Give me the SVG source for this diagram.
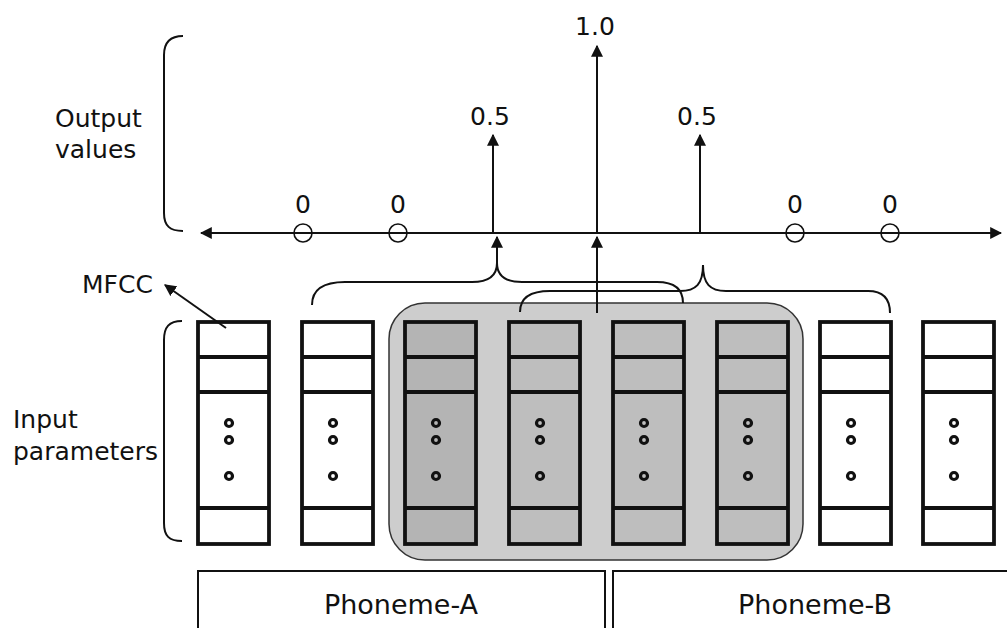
<svg xmlns="http://www.w3.org/2000/svg" width="1007" height="628" viewBox="0 0 1007 628">
<style>
.t{font-family:"DejaVu Sans","Liberation Sans",sans-serif;font-size:25px;fill:#111}
.num{font-family:"DejaVu Sans","Liberation Sans",sans-serif;font-size:25px;fill:#111;text-anchor:middle}
.ph{font-family:"DejaVu Sans","Liberation Sans",sans-serif;font-size:27px;fill:#111;text-anchor:middle}
.ln{fill:none;stroke:#111;stroke-width:2}
.br{fill:none;stroke:#111;stroke-width:2}
.col{stroke:#111;stroke-width:3.8}
.div{stroke:#111;stroke-width:3.8}
.dot{fill:none;stroke:#111;stroke-width:3.2}
.zc{fill:none;stroke:#111;stroke-width:1.6}
.box{fill:none;stroke:#111;stroke-width:2}
</style>
<defs>
<marker id="ah" viewBox="0 0 10 10" refX="9" refY="5" markerWidth="12" markerHeight="12" markerUnits="userSpaceOnUse" orient="auto-start-reverse">
<path d="M0,0 L10,5 L0,10 Z" fill="#111"/>
</marker>
<g id="column">
<rect class="col" x="0" y="0" width="71" height="222"/>
<line class="div" x1="0" y1="35" x2="71" y2="35"/>
<line class="div" x1="0" y1="70" x2="71" y2="70"/>
<line class="div" x1="0" y1="186" x2="71" y2="186"/>
<circle class="dot" cx="31" cy="101" r="3.5"/>
<circle class="dot" cx="31" cy="118" r="3.5"/>
<circle class="dot" cx="31" cy="154" r="3.5"/>
</g>
</defs>
<rect width="1007" height="628" fill="#fff"/>

<g id="shaded-region">
<rect x="389" y="303" width="414" height="257" rx="36" ry="36" fill="#cdcdcd" stroke="#333" stroke-width="1.5"/>
</g>

<g id="brackets">
<path class="br" d="M183,36 C170,36 164,42 164,55 L164,213 C164,226 170,231 183,231"/>
<path class="br" d="M182,321 C169,321 164,327 164,340 L164,523 C164,536 169,541 182,541"/>
</g>

<g id="labels">
<text class="t" x="55" y="127">Output</text>
<text class="t" x="55" y="158">values</text>
<text class="t" x="13" y="428">Input</text>
<text class="t" x="13" y="460">parameters</text>
<text class="t" x="82" y="293">MFCC</text>
</g>

<g id="columns">
<g id="col1" style="fill:#fff"><use href="#column" x="198" y="322"/></g>
<g id="col2" style="fill:#fff"><use href="#column" x="302" y="322"/></g>
<g id="col3" style="fill:#b4b4b4"><use href="#column" x="405" y="322"/></g>
<g id="col4" style="fill:#bebebe"><use href="#column" x="509" y="322"/></g>
<g id="col5" style="fill:#bebebe"><use href="#column" x="613" y="322"/></g>
<g id="col6" style="fill:#bebebe"><use href="#column" x="717" y="322"/></g>
<g id="col7" style="fill:#fff"><use href="#column" x="820" y="322"/></g>
<g id="col8" style="fill:#fff"><use href="#column" x="923" y="322"/></g>
</g>

<g id="connectors">
<line class="ln" x1="201" y1="233" x2="1001" y2="233" marker-start="url(#ah)" marker-end="url(#ah)"/>
<line class="ln" x1="493" y1="233" x2="493" y2="135" marker-end="url(#ah)"/>
<line class="ln" x1="597" y1="233" x2="597" y2="46" marker-end="url(#ah)"/>
<line class="ln" x1="700" y1="233" x2="700" y2="135" marker-end="url(#ah)"/>
<line class="ln" x1="497" y1="264" x2="497" y2="237" marker-end="url(#ah)"/>
<line class="ln" x1="597" y1="313" x2="597" y2="237" marker-end="url(#ah)"/>
<line class="ln" x1="226" y1="328" x2="165" y2="285" marker-end="url(#ah)"/>
<path class="br" d="M312,305 C312,290 322,282 345,282 L472,282 C489,282 497,276 497,263 C497,276 505,282 522,282 L657,282 C675,282 683,290 683,303"/>
<path class="br" d="M520,312 C520,298 530,291 550,291 L680,291 C696,291 703,284 703,265 C703,284 710,291 726,291 L868,291 C884,291 890,300 890,313"/>
</g>

<g id="output-points">
<circle class="zc" cx="303" cy="233" r="9"/>
<circle class="zc" cx="398" cy="233" r="9"/>
<circle class="zc" cx="795" cy="233" r="9"/>
<circle class="zc" cx="890" cy="233" r="9"/>
<text class="num" x="303" y="213">0</text>
<text class="num" x="398" y="213">0</text>
<text class="num" x="795" y="213">0</text>
<text class="num" x="890" y="213">0</text>
<text class="num" x="490" y="125">0.5</text>
<text class="num" x="697" y="125">0.5</text>
<text class="num" x="595" y="35">1.0</text>
</g>

<g id="phoneme-a">
<rect class="box" x="198" y="571" width="407" height="90"/>
<text class="ph" x="401" y="614">Phoneme-A</text>
</g>
<g id="phoneme-b">
<rect class="box" x="613" y="571" width="420" height="90"/>
<text class="ph" x="815" y="614">Phoneme-B</text>
</g>
</svg>
